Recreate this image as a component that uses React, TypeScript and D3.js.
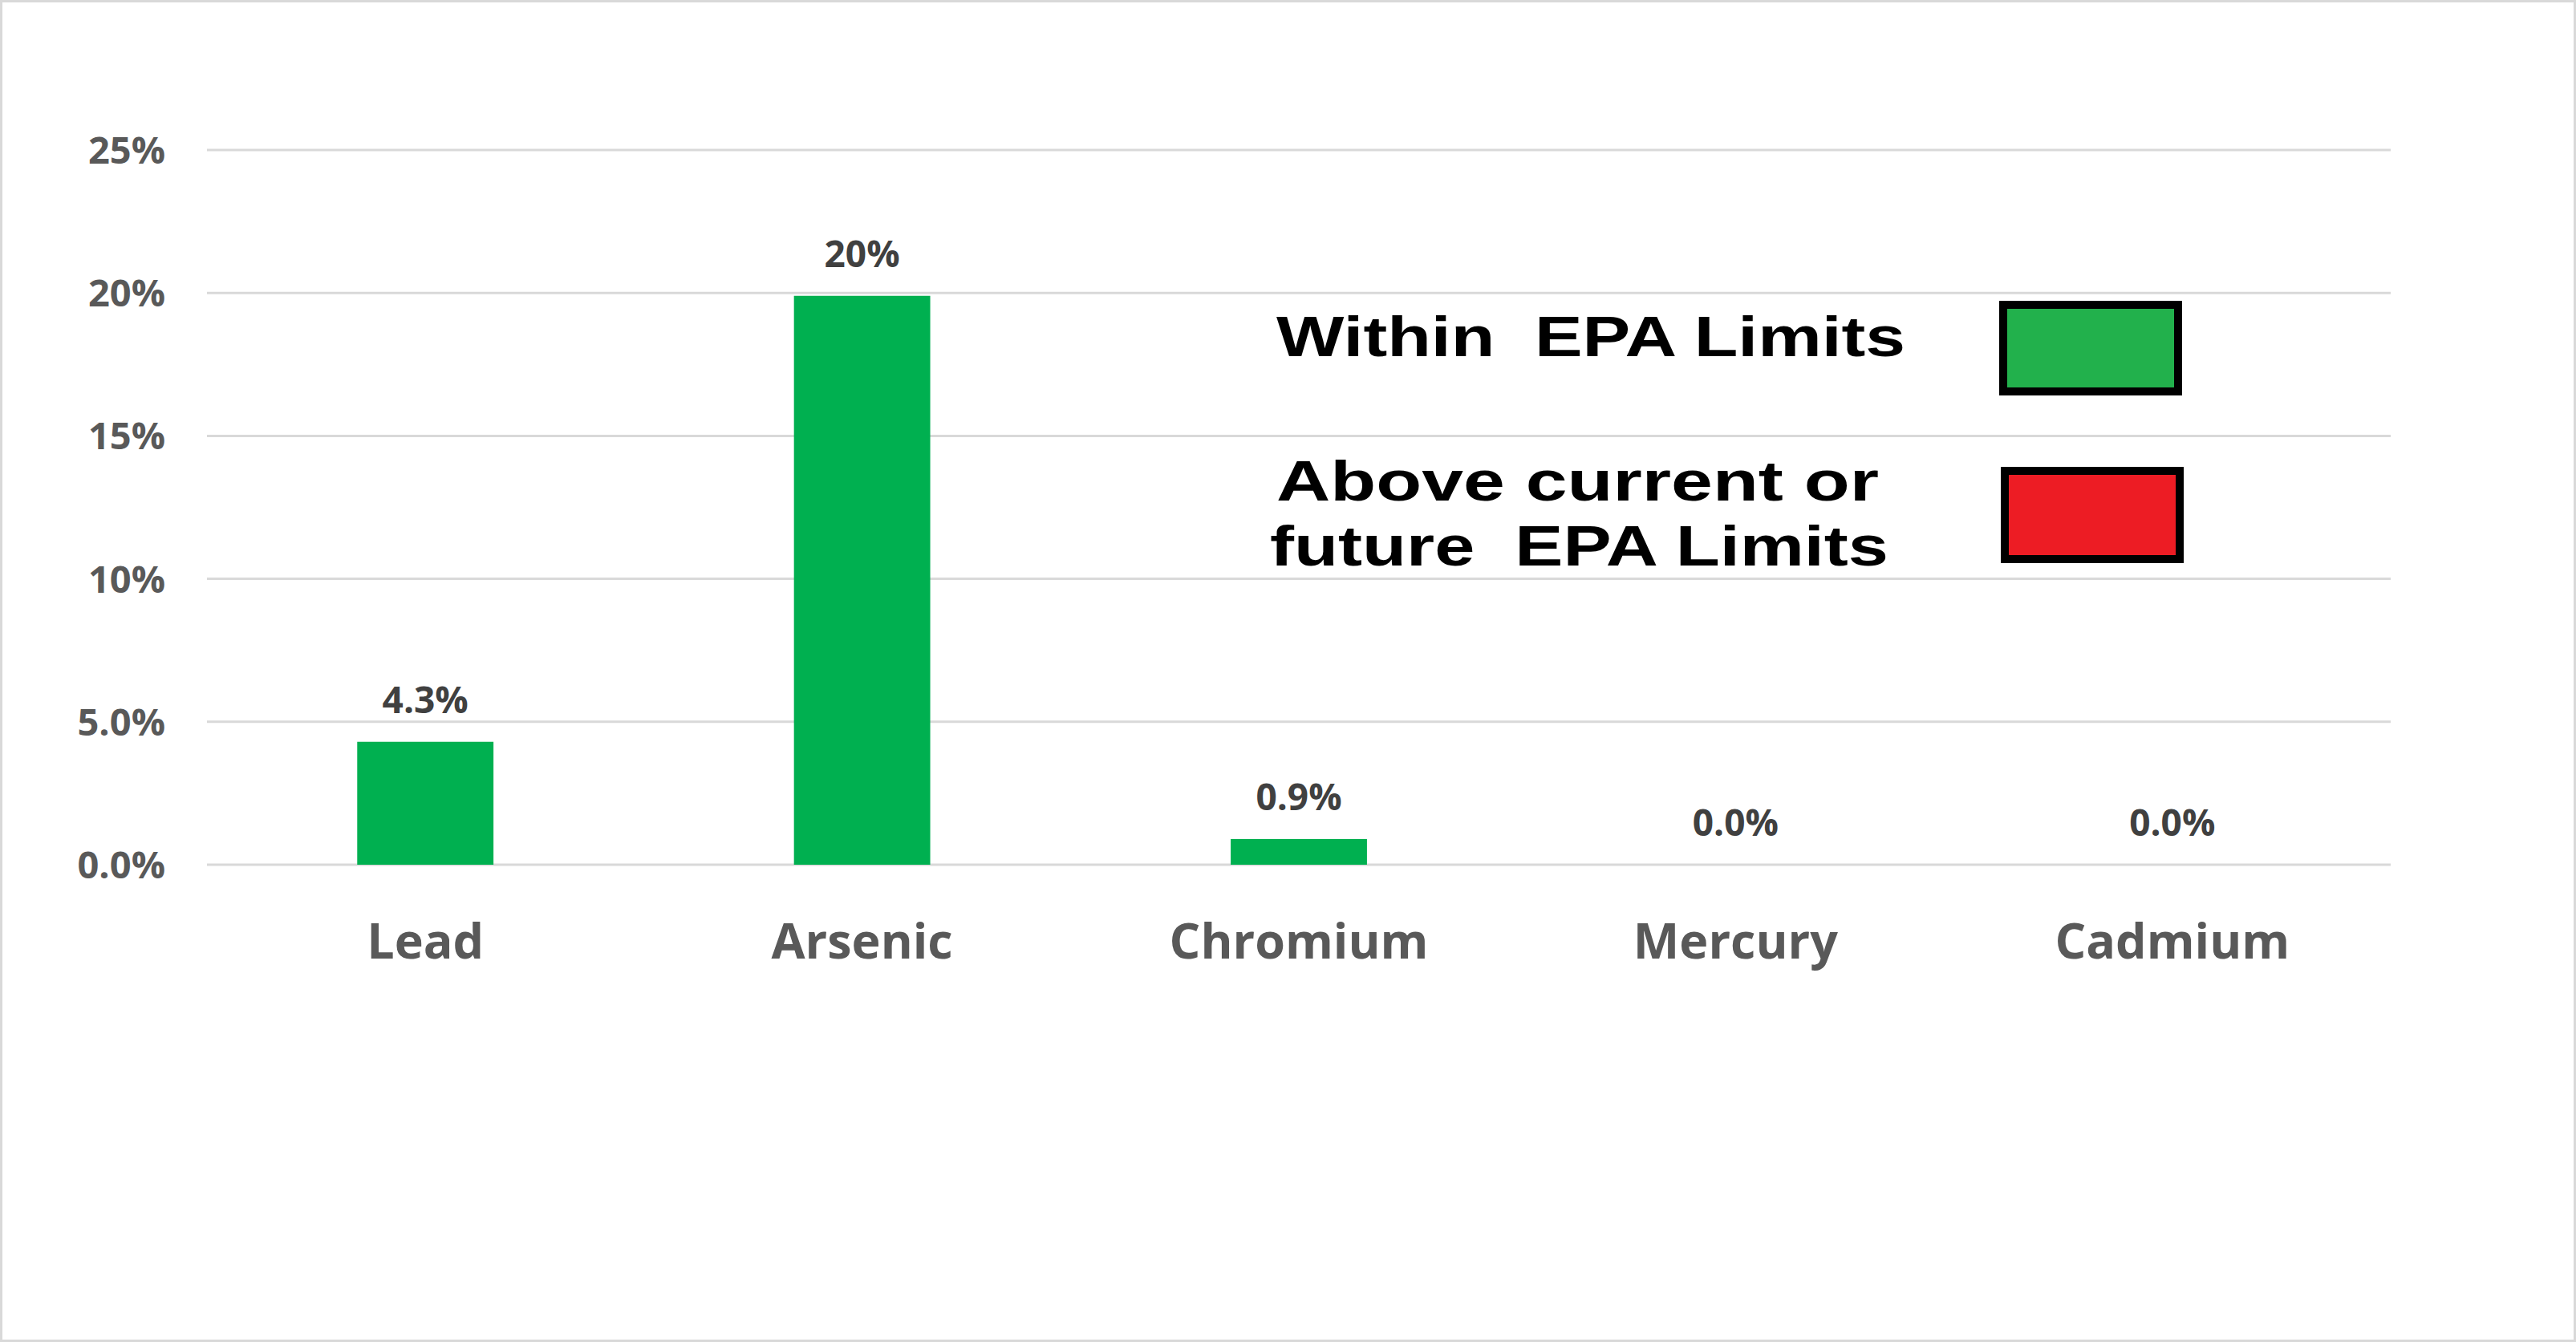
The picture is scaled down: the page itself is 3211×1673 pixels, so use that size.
import * as d3 from "d3";
import React, { useEffect } from "react";

const categories = ["Lead", "Arsenic", "Chromium", "Mercury", "Cadmium"];
const values = [4.3, 19.9, 0.9, 0.0, 0.0];
const valueLabels = ["4.3%", "20%", "0.9%", "0.0%", "0.0%"];
const tickValues = [0, 5, 10, 15, 20, 25];
const tickLabels = ["0.0%", "5.0%", "10%", "15%", "20%", "25%"];
const legendItems = [
  { lines: ["Within  EPA Limits"], color: "#22b14c" },
  { lines: ["Above current or", "future  EPA Limits"], color: "#ed1c24" },
];

const W = 3211;
const H = 1673;
const FONT = "'Open Sans', 'Noto Sans', sans-serif";

export default function App() {
  useEffect(() => {
    document.body.style.margin = "0";
  }, []);

  const margin = { top: 187, right: 231, bottom: 595, left: 258 };
  const x = d3.scaleBand<string>()
    .domain(categories)
    .range([margin.left, W - margin.right])
    .paddingInner(0.688)
    .paddingOuter(0.344);
  const y = d3.scaleLinear().domain([0, 25]).range([H - margin.bottom, margin.top]);

  return (
    <svg width={W} height={H} style={{ display: "block", background: "#fff" }}>
      <rect x={1.5} y={1.5} width={W - 3} height={H - 3} fill="#fff" stroke="#d9d9d9" strokeWidth={3} />

      {/* gridlines + y ticks */}
      {tickValues.map((t, i) => (
        <g key={t}>
          <line x1={margin.left} x2={W - margin.right} y1={y(t)} y2={y(t)} stroke="#d9d9d9" strokeWidth={3} />
          <text x={206} y={y(t) + 17} textAnchor="end" fontFamily={FONT} fontWeight={700} fontSize={47} fill="#595959">
            {tickLabels[i]}
          </text>
        </g>
      ))}

      {/* bars */}
      {categories.map((c, i) => (
        <g key={c}>
          {values[i] > 0 && (
            <rect x={x(c)} y={y(values[i])} width={x.bandwidth()} height={y(0) - y(values[i])} fill="#00b050" />
          )}
          <text
            x={(x(c) ?? 0) + x.bandwidth() / 2}
            y={y(values[i]) - 36}
            textAnchor="middle"
            fontFamily={FONT}
            fontWeight={700}
            fontSize={46}
            fill="#404040"
          >
            {valueLabels[i]}
          </text>
          <text
            x={(x(c) ?? 0) + x.bandwidth() / 2}
            y={1195}
            textAnchor="middle"
            fontFamily={FONT}
            fontWeight={700}
            fontSize={61}
            fill="#595959"
          >
            {c}
          </text>
        </g>
      ))}

      {/* legend (pasted-in image in the original) */}
      <g fontFamily="'Liberation Sans', Arial, sans-serif" fontWeight={700} fill="#000">
        <text x={1591} y={444} fontSize={71} textLength={784} lengthAdjust="spacingAndGlyphs" style={{ whiteSpace: "pre" }}>
          {legendItems[0].lines[0]}
        </text>
        <rect x={2497} y={380} width={218} height={108} fill={legendItems[0].color} stroke="#000" strokeWidth={10} />
        <text x={1591} y={624} fontSize={71} textLength={751} lengthAdjust="spacingAndGlyphs" style={{ whiteSpace: "pre" }}>
          {legendItems[1].lines[0]}
        </text>
        <text x={1583} y={705} fontSize={71} textLength={771} lengthAdjust="spacingAndGlyphs" style={{ whiteSpace: "pre" }}>
          {legendItems[1].lines[1]}
        </text>
        <rect x={2499} y={587} width={218} height={110} fill={legendItems[1].color} stroke="#000" strokeWidth={10} />
      </g>
    </svg>
  );
}
